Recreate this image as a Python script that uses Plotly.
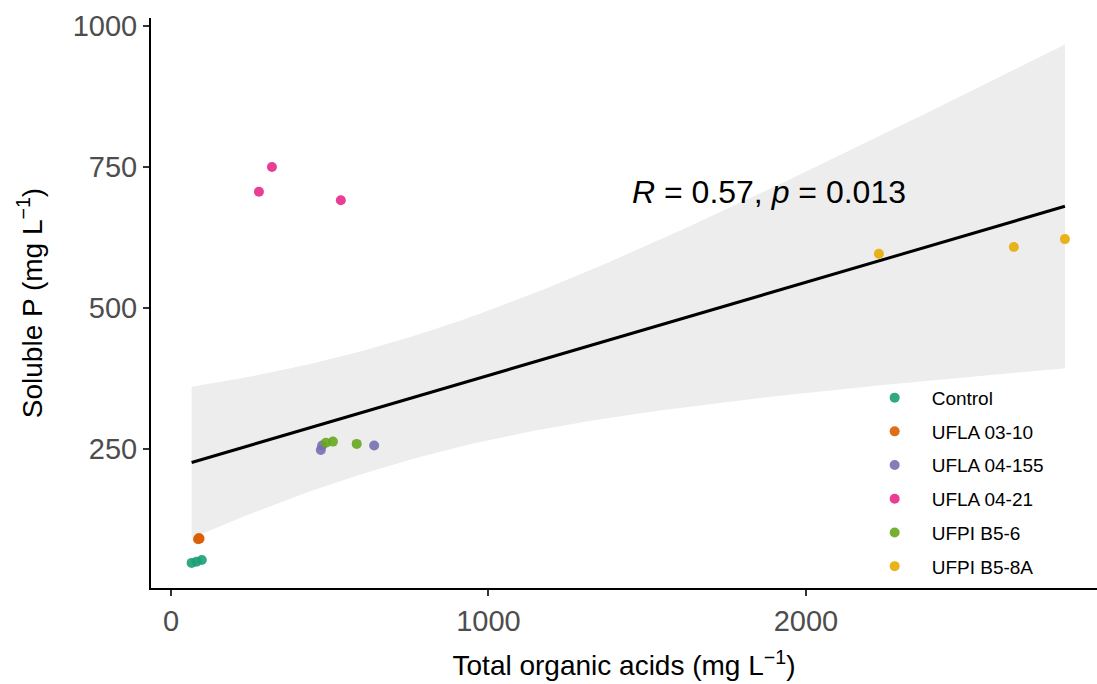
import numpy as np
import plotly.graph_objects as go

# ---- data ----
groups = ["Control", "UFLA 03-10", "UFLA 04-155", "UFLA 04-21", "UFPI B5-6", "UFPI B5-8A"]
colors = ["#1B9E77", "#D95F02", "#7570B3", "#E7298A", "#66A61E", "#E6AB02"]

control_x = [65, 80, 97]
control_y = [48, 50, 53]
ufla0310_x = [85, 88, 90]
ufla0310_y = [90, 92, 91]
ufla04155_x = [472, 476, 640]
ufla04155_y = [248, 256, 256]
ufla0421_x = [277, 318, 535]
ufla0421_y = [706, 750, 691]
ufpib56_x = [488, 510, 585]
ufpib56_y = [261, 263, 259]
ufpib58a_x = [2230, 2655, 2816]
ufpib58a_y = [596, 608, 622]

xs = [control_x, ufla0310_x, ufla04155_x, ufla0421_x, ufpib56_x, ufpib58a_x]
ys = [control_y, ufla0310_y, ufla04155_y, ufla0421_y, ufpib56_y, ufpib58a_y]

x_ticks = [0, 1000, 2000]
y_ticks = [250, 500, 750, 1000]
cor_label = "<i>R</i> = 0.57, <i>p</i> = 0.013"

# ---- linear fit with 95% confidence band ----
X = np.concatenate([np.array(v, float) for v in xs])
Y = np.concatenate([np.array(v, float) for v in ys])
n = len(X)
slope, intercept = np.polyfit(X, Y, 1)
resid = Y - (slope * X + intercept)
s = np.sqrt(np.sum(resid ** 2) / (n - 2))
sxx = np.sum((X - X.mean()) ** 2)
t_crit = 2.119905  # t(0.975, df=16)
xf = np.linspace(X.min(), X.max(), 80)
yf = slope * xf + intercept
se = s * np.sqrt(1.0 / n + (xf - X.mean()) ** 2 / sxx)
upper = yf + t_crit * se
lower = yf - t_crit * se

fig = go.Figure()
fig.add_trace(go.Scatter(
    x=np.concatenate([xf, xf[::-1]]), y=np.concatenate([upper, lower[::-1]]),
    fill="toself", fillcolor="#EDEDED", line=dict(width=0), mode="lines",
    hoverinfo="skip", showlegend=False))
fig.add_trace(go.Scatter(x=xf, y=yf, mode="lines", line=dict(color="black", width=3),
                         showlegend=False))
for g, c, gx, gy in zip(groups, colors, xs, ys):
    fig.add_trace(go.Scatter(x=gx, y=gy, mode="markers", name=g, legendgroup=g,
                             marker=dict(color=c, size=10, opacity=0.9)))

fig.add_annotation(x=1446, y=706, xref="x", yref="y", text=cor_label, showarrow=False,
                   xanchor="left", yanchor="middle",
                   font=dict(size=32, color="black", family="Liberation Sans, Arial"))

axis_common = dict(showline=True, linecolor="black", linewidth=2, ticks="outside",
                   ticklen=6, tickwidth=1.5, tickcolor="#333333", showgrid=False,
                   zeroline=False, mirror=False,
                   tickfont=dict(size=29, color="#4D4D4D", family="Liberation Sans, Arial"))

fig.update_layout(
    width=1097, height=684,
    margin=dict(l=151, r=0, t=18, b=96),
    plot_bgcolor="white", paper_bgcolor="white",
    font=dict(family="Liberation Sans, Arial", color="black"),
    xaxis=dict(range=[-63, 2917], tickvals=x_ticks,
               title=dict(text="Total organic acids (mg L<sup>−1</sup>)",
                          font=dict(size=28, color="black"), standoff=20),
               **axis_common),
    yaxis=dict(range=[3.5, 1014], tickvals=y_ticks,
               title=dict(text="Soluble P (mg L<sup>−1</sup>)",
                          font=dict(size=28, color="black"), standoff=22),
               **axis_common),
    legend=dict(x=0.747, y=0.367, xanchor="left", yanchor="top",
                bgcolor="rgba(0,0,0,0)", itemwidth=64, tracegroupgap=6,
                font=dict(size=19, color="black")),
)

fig.write_html("out.html")
